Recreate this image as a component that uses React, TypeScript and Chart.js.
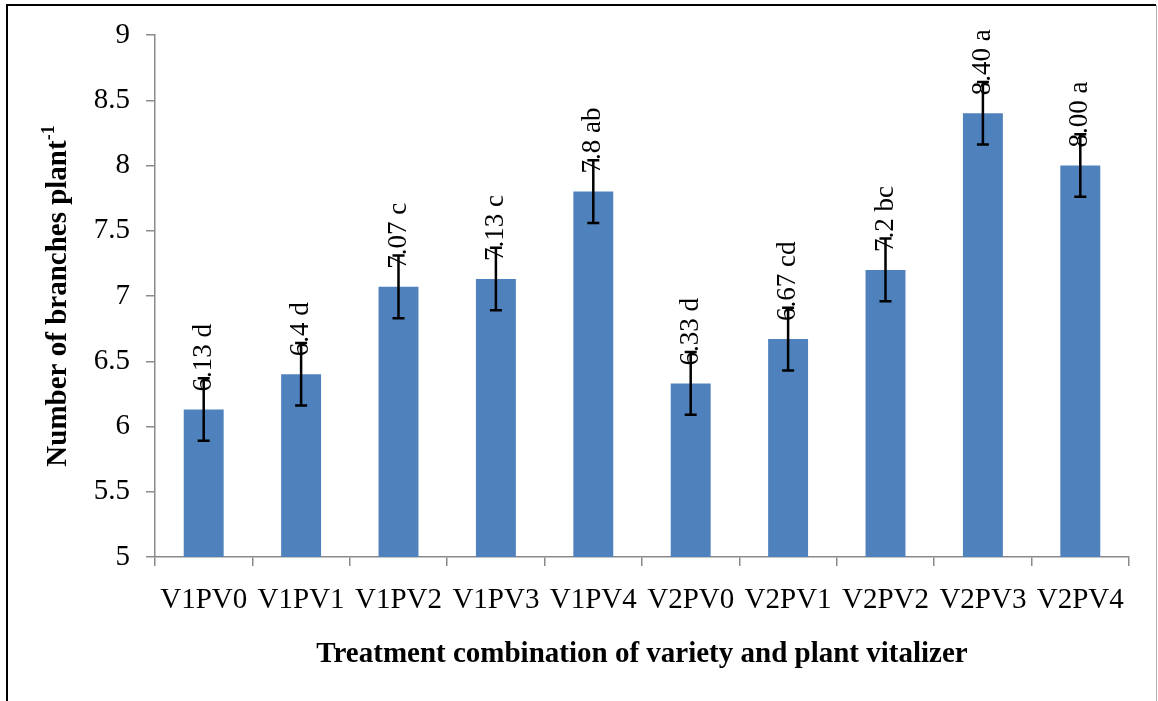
import React, { useEffect, useRef } from "react";
import { Chart, registerables } from "chart.js";

Chart.register(...registerables);

const treatments = ["V1PV0", "V1PV1", "V1PV2", "V1PV3", "V1PV4", "V2PV0", "V2PV1", "V2PV2", "V2PV3", "V2PV4"];
const branches = [6.13, 6.4, 7.07, 7.13, 7.8, 6.33, 6.67, 7.2, 8.4, 8.0];
const errors = [0.24, 0.24, 0.24, 0.24, 0.24, 0.24, 0.24, 0.24, 0.24, 0.24];
const valueLabels = ["6.13 d", "6.4 d", "7.07 c", "7.13 c", "7.8 ab", "6.33 d", "6.67 cd", "7.2 bc", "8.40 a", "8.00 a"];
const yTitle = "Number of branches plant";
const yTitleSup = "-1";
const xTitle = "Treatment combination of variety and plant vitalizer";

const SERIF = '"Liberation Serif", "Times New Roman", serif';
const AXIS_GRAY = "#8a8a8a";

const W = 1158;
const H = 701;

// Outer frame around the figure
const framePlugin = {
  id: "frame",
  beforeDraw(chart: any) {
    const ctx = chart.ctx;
    ctx.save();
    ctx.fillStyle = "#ffffff";
    ctx.fillRect(0, 0, W, H);
    ctx.strokeStyle = "#000000";
    ctx.lineWidth = 2;
    ctx.beginPath();
    ctx.moveTo(7, H);
    ctx.lineTo(7, 5);
    ctx.lineTo(1156, 5);
    ctx.stroke();
    ctx.strokeStyle = "#b0b0b0";
    ctx.lineWidth = 1;
    ctx.beginPath();
    ctx.moveTo(1156.5, 5);
    ctx.lineTo(1156.5, H);
    ctx.stroke();
    ctx.restore();
  },
};

// Axis titles, value labels and error bars
const annotatePlugin = {
  id: "annotate",
  afterDatasetsDraw(chart: any) {
    const ctx = chart.ctx;
    const xs = chart.scales.x;
    const ys = chart.scales.y;
    const area = chart.chartArea;
    ctx.save();

    // value labels, rotated
    ctx.fillStyle = "#000";
    ctx.font = `27px ${SERIF}`;
    ctx.textAlign = "left";
    ctx.textBaseline = "middle";
    branches.forEach((v, i) => {
      const x = xs.getPixelForValue(i);
      const y = ys.getPixelForValue(v) - 18;
      ctx.save();
      ctx.translate(x, y);
      ctx.rotate(-Math.PI / 2);
      ctx.fillText(valueLabels[i], 0, 0);
      ctx.restore();
    });

    // error bars
    ctx.strokeStyle = "#000";
    ctx.lineWidth = 2.5;
    branches.forEach((v, i) => {
      const x = xs.getPixelForValue(i);
      const yt = ys.getPixelForValue(v + errors[i]);
      const yb = ys.getPixelForValue(v - errors[i]);
      ctx.beginPath();
      ctx.moveTo(x, yt);
      ctx.lineTo(x, yb);
      ctx.moveTo(x - 6, yt);
      ctx.lineTo(x + 6, yt);
      ctx.moveTo(x - 6, yb);
      ctx.lineTo(x + 6, yb);
      ctx.stroke();
    });

    // x axis title
    ctx.font = `bold 29px ${SERIF}`;
    ctx.textAlign = "center";
    ctx.textBaseline = "middle";
    ctx.fillText(xTitle, (area.left + area.right) / 2, 655);

    // y axis title with superscript
    const mainFont = `bold 29px ${SERIF}`;
    const supFont = `bold 18px ${SERIF}`;
    ctx.font = mainFont;
    const wMain = ctx.measureText(yTitle).width;
    ctx.font = supFont;
    const wSup = ctx.measureText(yTitleSup).width;
    const total = wMain + wSup;
    ctx.save();
    ctx.translate(59, (area.top + area.bottom) / 2);
    ctx.rotate(-Math.PI / 2);
    ctx.textAlign = "left";
    ctx.textBaseline = "middle";
    ctx.font = mainFont;
    ctx.fillText(yTitle, -total / 2, 0);
    ctx.font = supFont;
    ctx.fillText(yTitleSup, -total / 2 + wMain, -10);
    ctx.restore();

    ctx.restore();
  },
};

export default function App() {
  const canvasRef = useRef<HTMLCanvasElement | null>(null);

  useEffect(() => {
    document.body.style.margin = "0";
    const canvas = canvasRef.current;
    if (!canvas) return;
    const chart = new Chart(canvas, {
      type: "bar",
      data: {
        labels: treatments,
        datasets: [
          {
            data: branches,
            backgroundColor: "#4F81BD",
            borderWidth: 0,
            categoryPercentage: 1,
            barPercentage: 0.41,
          },
        ],
      },
      options: {
        responsive: false,
        animation: false,
        devicePixelRatio: 1,
        layout: { padding: { left: 0, top: 35, right: 29, bottom: 0 } },
        plugins: {
          legend: { display: false },
          tooltip: { enabled: false },
          title: { display: false },
        },
        scales: {
          x: {
            offset: true,
            grid: {
              offset: true,
              drawOnChartArea: false,
              drawTicks: true,
              tickLength: 9,
              color: AXIS_GRAY,
              lineWidth: 1.5,
            },
            border: { color: AXIS_GRAY, width: 1.5 },
            ticks: {
              color: "#000",
              font: { family: SERIF, size: 29 },
              padding: 17,
              maxRotation: 0,
              autoSkip: false,
            },
            afterFit(scale: any) {
              scale.height = H - 557;
            },
          },
          y: {
            min: 5,
            max: 9,
            grid: {
              drawOnChartArea: false,
              drawTicks: true,
              tickLength: 9,
              color: AXIS_GRAY,
              lineWidth: 1.5,
            },
            border: { color: AXIS_GRAY, width: 1.5 },
            ticks: {
              stepSize: 0.5,
              color: "#000",
              font: { family: SERIF, size: 29 },
              padding: 16,
              callback: (value: any) => String(Number(value)),
            },
            afterFit(scale: any) {
              scale.width = 155;
            },
          },
        },
      },
      plugins: [framePlugin, annotatePlugin],
    });
    return () => chart.destroy();
  }, []);

  return (
    <div style={{ position: "relative", width: W, height: H }}>
      <canvas ref={canvasRef} width={W} height={H} style={{ display: "block", width: W, height: H }} />
    </div>
  );
}
